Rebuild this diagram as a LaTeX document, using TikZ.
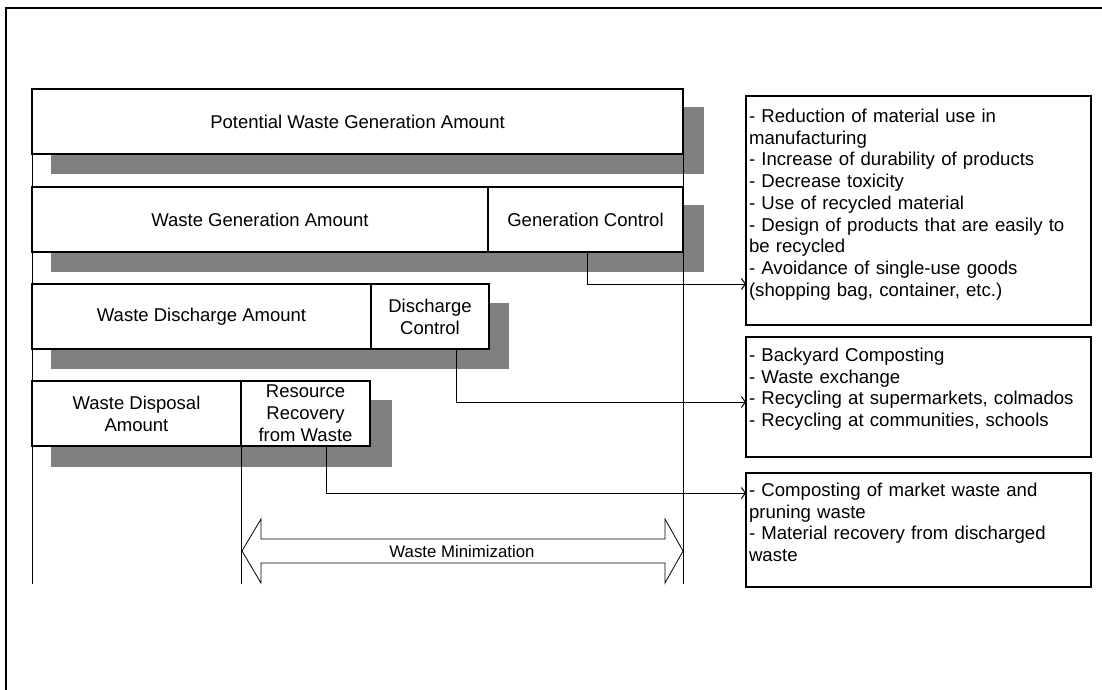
\documentclass[tikz,border=0pt]{standalone}
\usepackage{fontspec}
\setmainfont{Liberation Sans}
\usetikzlibrary{arrows.meta}
\definecolor{shadowgray}{HTML}{808080}
\begin{document}
\begin{tikzpicture}[x=1pt,y=-1pt,
  every node/.style={inner sep=0pt, outer sep=0pt},
  bar/.style={draw, line width=2pt, fill=white, minimum height=65pt, align=center,
    font=\fontsize{18.5}{22}\selectfont, anchor=north west},
  guide/.style={line width=1pt},
  notebox/.style={draw, line width=1.5pt, anchor=north west, minimum width=345pt},
  notetext/.style={anchor=base west, text width=340pt, align=left,
    font=\fontsize{18.6}{21.7}\selectfont},
  link/.style={line width=1pt, -{Straight Barb[length=4pt,width=11pt]}},
]
\useasboundingbox (0,0) rectangle (1102,689);

% page frame (only top and left edges fall inside the page)
\draw[line width=2pt] (6,720) -- (6,8) -- (1120,8);

% shadows behind the bars
\fill[shadowgray] (51,107) rectangle (704,174);
\fill[shadowgray] (51,205) rectangle (704,272);
\fill[shadowgray] (51,303) rectangle (509,369);
\fill[shadowgray] (51,400) rectangle (392,467);

% vertical guide lines
\coordinate (gl) at (32,89);
\coordinate (gr) at (683,89);
\coordinate (gbot) at (0,584);
\draw[guide] (gl) -- (gl |- gbot);
\draw[guide] (gr) -- (gr |- gbot);

% connectors from the control parts to the measure lists
\coordinate (ya) at (0,284);
\coordinate (yb) at (0,402);
\coordinate (yc) at (0,493);

% bars
\node[bar, minimum width=651pt] (pot) at (32,89) {Potential Waste Generation Amount};

\node[bar, minimum width=456pt] (gen) at (32,187) {Waste Generation Amount};
\node[bar, minimum width=195pt] (genctl) at (488,187) {Generation Control};

\node[bar, minimum width=339pt] (dis) at (32,284) {Waste Discharge Amount};
\node[bar, minimum width=118pt] (disctl) at (371,284) {Discharge\\Control};

\node[bar, minimum width=209pt] (dsp) at (32,381) {Waste Disposal\\Amount};
\node[bar, minimum width=129pt] (rec) at (241,381) {Resource\\Recovery\\from Waste};

\draw[guide] (rec.south west) -- (rec.south west |- gbot);

% measure lists
\node[notebox, minimum height=229pt] (mA) at (746,96) {};
\node[notebox, minimum height=120pt] (mB) at (746,337) {};
\node[notebox, minimum height=114pt] (mC) at (746,473) {};

\node[notetext] (tA) at (749,122.5) {- Reduction of material use in\\manufacturing\\- Increase of durability of products\\- Decrease toxicity\\- Use of recycled material\\- Design of products that are easily to\\be recycled\\- Avoidance of single-use goods\\(shopping bag, container, etc.)};
\node[notetext] (tB) at (749,361.5) {- Backyard Composting\\- Waste exchange\\- Recycling at supermarkets, colmados\\- Recycling at communities, schools};
\node[notetext] (tC) at (749,496.5) {- Composting of market waste and\\pruning waste\\- Material recovery from discharged\\waste};

\draw[link] ([xshift=1.5pt]genctl.south) |- (mA.west |- ya);
\draw[link] ([xshift=26pt]disctl.south) |- (mB.west |- yb);
\draw[link] ([xshift=20.5pt]rec.south) |- (mC.west |- yc);

% double arrow spanning the minimization range
\draw[line width=0.8pt, fill=white]
  (242,551) -- (261,519) -- (261,539) -- (665,539) -- (665,519) -- (683,551)
  -- (665,583) -- (665,563) -- (261,563) -- (261,583) -- cycle;
\node[font=\fontsize{16.8}{20}\selectfont] (wm) at (462,551) {Waste Minimization};
\end{tikzpicture}
\end{document}
